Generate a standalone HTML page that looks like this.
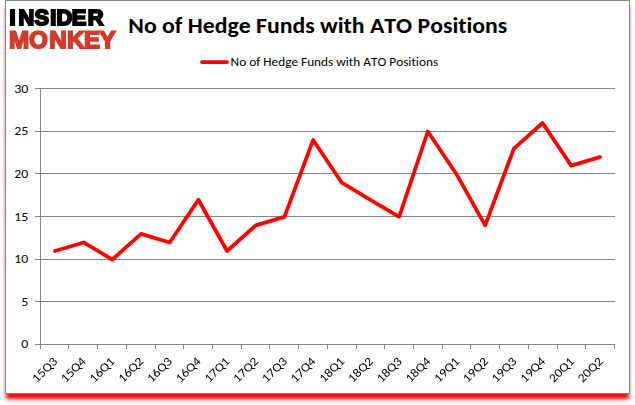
<!DOCTYPE html>
<html><head><meta charset="utf-8"><style>
html,body{margin:0;padding:0;background:#fff;width:635px;height:405px;overflow:hidden}
#box{position:absolute;left:5px;top:0;width:623px;height:392px;border:1px solid #858585;background:#fff;box-shadow:0 6px 4px -1px #f00}
svg{position:absolute;left:0;top:0}
.t{font-family:Carlito,"Liberation Sans",sans-serif;fill:#000;font-variant-ligatures:none;font-kerning:none}
</style></head><body>
<div id="box"></div>
<svg width="635" height="405" viewBox="0 0 635 405">
<g class="t">
<text x="128.3" y="32.8" font-size="22.6" font-weight="bold" textLength="379" lengthAdjust="spacingAndGlyphs">No of Hedge Funds with ATO Positions</text>
<text x="230.6" y="65.6" font-size="12.3" textLength="207.5" lengthAdjust="spacingAndGlyphs">No of Hedge Funds with ATO Positions</text>
</g>
<line x1="202" y1="62" x2="227" y2="62" stroke="#f00" stroke-width="3.75" stroke-linecap="round"/>
<g stroke="#868686" stroke-width="1" shape-rendering="crispEdges"><line x1="40" y1="301.5" x2="615.0" y2="301.5"/><line x1="40" y1="259.5" x2="615.0" y2="259.5"/><line x1="40" y1="216.5" x2="615.0" y2="216.5"/><line x1="40" y1="173.5" x2="615.0" y2="173.5"/><line x1="40" y1="131.5" x2="615.0" y2="131.5"/><line x1="40" y1="88.5" x2="615.0" y2="88.5"/>
<line x1="40.5" y1="88" x2="40.5" y2="344"/>
<line x1="35" y1="344.5" x2="615.0" y2="344.5"/><line x1="35" y1="344.5" x2="40" y2="344.5"/><line x1="35" y1="301.5" x2="40" y2="301.5"/><line x1="35" y1="259.5" x2="40" y2="259.5"/><line x1="35" y1="216.5" x2="40" y2="216.5"/><line x1="35" y1="173.5" x2="40" y2="173.5"/><line x1="35" y1="131.5" x2="40" y2="131.5"/><line x1="35" y1="88.5" x2="40" y2="88.5"/><line x1="40.5" y1="344" x2="40.5" y2="349"/><line x1="68.5" y1="344" x2="68.5" y2="349"/><line x1="97.5" y1="344" x2="97.5" y2="349"/><line x1="126.5" y1="344" x2="126.5" y2="349"/><line x1="155.5" y1="344" x2="155.5" y2="349"/><line x1="183.5" y1="344" x2="183.5" y2="349"/><line x1="212.5" y1="344" x2="212.5" y2="349"/><line x1="241.5" y1="344" x2="241.5" y2="349"/><line x1="269.5" y1="344" x2="269.5" y2="349"/><line x1="298.5" y1="344" x2="298.5" y2="349"/><line x1="327.5" y1="344" x2="327.5" y2="349"/><line x1="356.5" y1="344" x2="356.5" y2="349"/><line x1="384.5" y1="344" x2="384.5" y2="349"/><line x1="413.5" y1="344" x2="413.5" y2="349"/><line x1="442.5" y1="344" x2="442.5" y2="349"/><line x1="470.5" y1="344" x2="470.5" y2="349"/><line x1="499.5" y1="344" x2="499.5" y2="349"/><line x1="528.5" y1="344" x2="528.5" y2="349"/><line x1="557.5" y1="344" x2="557.5" y2="349"/><line x1="585.5" y1="344" x2="585.5" y2="349"/><line x1="614.5" y1="344" x2="614.5" y2="349"/></g>
<g class="t" font-size="12.3"><text x="28.3" y="348.20" text-anchor="end" textLength="7" lengthAdjust="spacingAndGlyphs">0</text><text x="28.3" y="306.03" text-anchor="end" textLength="7" lengthAdjust="spacingAndGlyphs">5</text><text x="28.3" y="263.37" text-anchor="end" textLength="14" lengthAdjust="spacingAndGlyphs">10</text><text x="28.3" y="220.70" text-anchor="end" textLength="14" lengthAdjust="spacingAndGlyphs">15</text><text x="28.3" y="178.03" text-anchor="end" textLength="14" lengthAdjust="spacingAndGlyphs">20</text><text x="28.3" y="135.37" text-anchor="end" textLength="14" lengthAdjust="spacingAndGlyphs">25</text><text x="28.3" y="92.70" text-anchor="end" textLength="14" lengthAdjust="spacingAndGlyphs">30</text></g>
<g class="t" font-size="12.3" style="will-change:transform"><text transform="translate(58.06,362) rotate(-45)" text-anchor="end" textLength="30" lengthAdjust="spacingAndGlyphs">15Q3</text><text transform="translate(86.77,362) rotate(-45)" text-anchor="end" textLength="30" lengthAdjust="spacingAndGlyphs">15Q4</text><text transform="translate(115.49,362) rotate(-45)" text-anchor="end" textLength="30" lengthAdjust="spacingAndGlyphs">16Q1</text><text transform="translate(144.21,362) rotate(-45)" text-anchor="end" textLength="30" lengthAdjust="spacingAndGlyphs">16Q2</text><text transform="translate(172.92,362) rotate(-45)" text-anchor="end" textLength="30" lengthAdjust="spacingAndGlyphs">16Q3</text><text transform="translate(201.64,362) rotate(-45)" text-anchor="end" textLength="30" lengthAdjust="spacingAndGlyphs">16Q4</text><text transform="translate(230.35,362) rotate(-45)" text-anchor="end" textLength="30" lengthAdjust="spacingAndGlyphs">17Q1</text><text transform="translate(259.07,362) rotate(-45)" text-anchor="end" textLength="30" lengthAdjust="spacingAndGlyphs">17Q2</text><text transform="translate(287.79,362) rotate(-45)" text-anchor="end" textLength="30" lengthAdjust="spacingAndGlyphs">17Q3</text><text transform="translate(316.50,362) rotate(-45)" text-anchor="end" textLength="30" lengthAdjust="spacingAndGlyphs">17Q4</text><text transform="translate(345.22,362) rotate(-45)" text-anchor="end" textLength="30" lengthAdjust="spacingAndGlyphs">18Q1</text><text transform="translate(373.93,362) rotate(-45)" text-anchor="end" textLength="30" lengthAdjust="spacingAndGlyphs">18Q2</text><text transform="translate(402.65,362) rotate(-45)" text-anchor="end" textLength="30" lengthAdjust="spacingAndGlyphs">18Q3</text><text transform="translate(431.37,362) rotate(-45)" text-anchor="end" textLength="30" lengthAdjust="spacingAndGlyphs">18Q4</text><text transform="translate(460.08,362) rotate(-45)" text-anchor="end" textLength="30" lengthAdjust="spacingAndGlyphs">19Q1</text><text transform="translate(488.80,362) rotate(-45)" text-anchor="end" textLength="30" lengthAdjust="spacingAndGlyphs">19Q2</text><text transform="translate(517.51,362) rotate(-45)" text-anchor="end" textLength="30" lengthAdjust="spacingAndGlyphs">19Q3</text><text transform="translate(546.23,362) rotate(-45)" text-anchor="end" textLength="30" lengthAdjust="spacingAndGlyphs">19Q4</text><text transform="translate(574.95,362) rotate(-45)" text-anchor="end" textLength="30" lengthAdjust="spacingAndGlyphs">20Q1</text><text transform="translate(603.66,362) rotate(-45)" text-anchor="end" textLength="30" lengthAdjust="spacingAndGlyphs">20Q2</text></g>
<polyline points="55.00,250.98 83.68,242.45 112.36,259.52 141.04,233.92 169.72,242.45 198.40,199.78 227.08,250.98 255.76,225.38 284.44,216.85 313.12,140.05 341.80,182.72 370.48,199.78 399.16,216.85 427.84,131.52 456.52,174.18 485.20,225.38 513.88,148.58 542.56,122.98 571.24,165.65 599.92,157.12" fill="none" stroke="#f00" stroke-width="3.75" stroke-linejoin="round" stroke-linecap="round"/>
<g font-family="'Liberation Sans',sans-serif" font-weight="bold" text-rendering="geometricPrecision" stroke-linejoin="miter" style="will-change:transform">
<text x="9.6 18.6 34.6 50.3 56.6 71.7 87.8" y="25" font-size="21.8" stroke-width="2" fill="#000" stroke="#000">INSIDER</text>
<text x="8.9 29.1 49.3 67.1 84.1 99.4" y="48" font-size="24.2" stroke-width="1.8" fill="#d23c29" stroke="#d23c29">MONKEY</text>
</g>
</svg>
</body></html>
